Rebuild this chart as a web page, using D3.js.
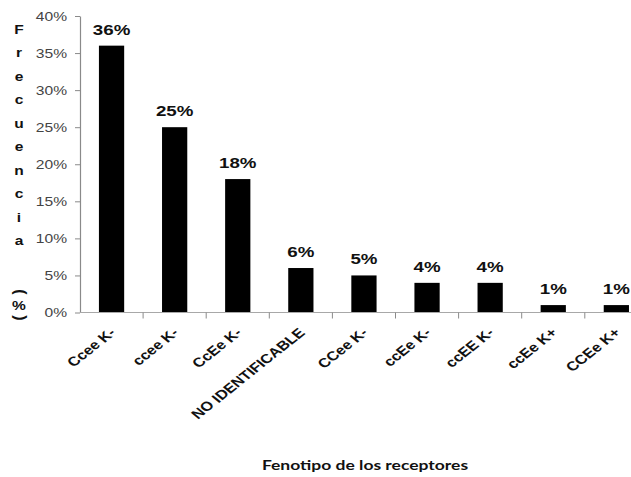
<!DOCTYPE html>
<html>
<head>
<meta charset="utf-8">
<script src="https://cdn.jsdelivr.net/npm/d3@7"></script>
<style>
  html, body { margin: 0; padding: 0; background: #fff; }
  svg { display: block; }
</style>
</head>
<body>
<svg id="chart" width="631" height="477"></svg>
<script>
// Phenotype categories and their frequency (%)
const categories = ["Ccee K-", "ccee K-", "CcEe K-", "NO IDENTIFICABLE", "CCee K-", "ccEe K-", "ccEE K-", "ccEe K+", "CCEe K+"];
const frequencies = [36, 25, 18, 6, 5, 4, 4, 1, 1];
const yTickValues = [0, 5, 10, 15, 20, 25, 30, 35, 40];
const yTitleChars = ["F", "r", "e", "c", "u", "e", "n", "c", "i", "a"];
const xTitle = "Fenotipo de los receptores";

const W = 631, H = 477;
const SX = 1.25; // horizontal text stretch
const plotLeft = 80, plotTop = 16, plotBottom = 312.5;
const step = 63.1;

const svg = d3.select("#chart");

const x = d3.scaleBand()
  .domain(categories)
  .range([plotLeft, plotLeft + step * categories.length])
  .paddingInner(0.6)
  .paddingOuter(0.3);

const y = d3.scaleLinear().domain([0, 40]).range([plotBottom, plotTop]);

// Bars
svg.append("g").selectAll("rect")
  .data(categories)
  .join("rect")
  .attr("x", d => x(d))
  .attr("y", (d, i) => y(frequencies[i]))
  .attr("width", x.bandwidth())
  .attr("height", (d, i) => y(0) - y(frequencies[i]))
  .attr("fill", "#000");

// Y axis
const yAxis = svg.append("g")
  .attr("transform", `translate(${plotLeft},0)`)
  .call(d3.axisLeft(y).tickValues(yTickValues).tickFormat(d => d + "%").tickSize(5).tickSizeOuter(0));
yAxis.select(".domain").attr("stroke", "#8a8a8a").attr("stroke-width", 1.2);
yAxis.selectAll(".tick line").attr("stroke", "#8a8a8a");
yAxis.selectAll(".tick text")
  .attr("x", -13 / SX)
  .attr("transform", `scale(${SX},1)`)
  .attr("fill", "#444")
  .style("font-family", "'Liberation Sans', Arial, sans-serif")
  .style("font-size", "12.5px");

// Category baseline and boundary ticks
const base = svg.append("g");
base.append("line")
  .attr("x1", plotLeft).attr("x2", W)
  .attr("y1", y(0)).attr("y2", y(0))
  .attr("stroke", "#a8a8a8").attr("stroke-width", 1.2);
base.selectAll("line.tick")
  .data(categories)
  .join("line")
  .attr("class", "tick")
  .attr("x1", d => x(d) + x.bandwidth() / 2 + x.step() / 2)
  .attr("x2", d => x(d) + x.bandwidth() / 2 + x.step() / 2)
  .attr("y1", y(0)).attr("y2", y(0) + 6)
  .attr("stroke", "#8a8a8a");

// Value labels
svg.append("g").selectAll("text")
  .data(categories)
  .join("text")
  .attr("transform", (d, i) => `translate(${x(d) + x.bandwidth() / 2},${y(frequencies[i]) - 11}) scale(${SX},1)`)
  .attr("text-anchor", "middle")
  .attr("fill", "#111")
  .style("font-family", "'Liberation Sans', Arial, sans-serif")
  .style("font-weight", "bold")
  .style("font-size", "15px")
  .text((d, i) => frequencies[i] + "%");

// Rotated category labels
svg.append("g").selectAll("text")
  .data(categories)
  .join("text")
  .attr("transform", d => `translate(${x(d) + x.bandwidth() / 2 + 5},${y(0) + 21}) scale(${SX},1) rotate(-45)`)
  .attr("text-anchor", "end")
  .attr("fill", "#111")
  .style("font-family", "'Liberation Sans', Arial, sans-serif")
  .style("font-weight", "bold")
  .style("font-size", "13px")
  .text(d => d);

// Stacked y title
const yt = svg.append("g")
  .attr("fill", "#111")
  .style("font-family", "'Liberation Sans', Arial, sans-serif")
  .style("font-weight", "bold")
  .style("font-size", "13.5px");
yt.selectAll("text.ch")
  .data(yTitleChars)
  .join("text")
  .attr("class", "ch")
  .attr("transform", (d, i) => `translate(19,${29 + i * 23.5}) scale(1.15,1)`)
  .attr("text-anchor", "middle")
  .attr("dy", "0.36em")
  .text(d => d);
// Parentheses turned sideways around the % sign
yt.append("text")
  .attr("transform", "translate(20,292) rotate(90)")
  .attr("text-anchor", "middle").attr("dy", "0.3em")
  .style("font-size", "16px")
  .text("(");
yt.append("text")
  .attr("transform", "translate(19,305) scale(1.15,1)")
  .attr("text-anchor", "middle").attr("dy", "0.36em")
  .text("%");
yt.append("text")
  .attr("transform", "translate(20,318) rotate(90)")
  .attr("text-anchor", "middle").attr("dy", "0.3em")
  .style("font-size", "16px")
  .text(")");

// X title
svg.append("text")
  .attr("transform", `translate(365,470) scale(${SX},1)`)
  .attr("text-anchor", "middle")
  .attr("fill", "#111")
  .style("font-family", "Lato, 'Open Sans', sans-serif")
  .style("font-weight", "bold")
  .style("font-size", "14px")
  .text(xTitle);
</script>
</body>
</html>
